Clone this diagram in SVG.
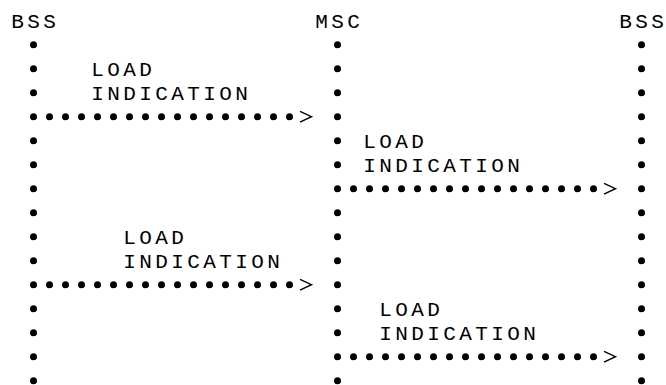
<svg xmlns="http://www.w3.org/2000/svg" width="666" height="385" viewBox="0 0 666 385">
<style>
  text { font-family: "Liberation Mono", "DejaVu Sans Mono", monospace; font-size: 21px; letter-spacing: 3.4px; fill: #000; }
  .life { stroke: #000; stroke-width: 7; stroke-linecap: round; stroke-dasharray: 0 24; fill: none; }
  .msg { stroke: #000; stroke-width: 7; stroke-linecap: round; stroke-dasharray: 0 16; fill: none; marker-end: url(#chev); }
</style>
<defs>
  <marker id="chev" markerUnits="userSpaceOnUse" viewBox="0 0 24 12" markerWidth="24" markerHeight="12" refX="0" refY="6" orient="auto" overflow="visible">
    <path d="M 10.5 0.6 L 22 6 L 10.5 11.4" fill="none" stroke="#000" stroke-width="1.4"/>
  </marker>
</defs>
<rect width="666" height="385" fill="#fff"/>
<g id="bss-left">
  <text x="11.2" y="28.2">BSS</text>
  <line class="life" x1="33.5" y1="44.7" x2="33.5" y2="380.71"/>
</g>
<g id="msc">
  <text x="315.2" y="28.2">MSC</text>
  <line class="life" x1="337.5" y1="44.7" x2="337.5" y2="380.71"/>
</g>
<g id="bss-right">
  <text x="619.2" y="28.2">BSS</text>
  <line class="life" x1="641.5" y1="44.7" x2="641.5" y2="380.71"/>
</g>
<g id="connectors">
  <line class="msg" x1="49.5" y1="116.7" x2="289.51" y2="116.7"/>
  <text x="91.2" y="76.2">LOAD<tspan x="91.2" y="100.2">INDICATION</tspan></text>
  <line class="msg" x1="353.5" y1="188.7" x2="593.51" y2="188.7"/>
  <text x="363.2" y="148.2">LOAD<tspan x="363.2" y="172.2">INDICATION</tspan></text>
  <line class="msg" x1="49.5" y1="284.7" x2="289.51" y2="284.7"/>
  <text x="123.2" y="244.2">LOAD<tspan x="123.2" y="268.2">INDICATION</tspan></text>
  <line class="msg" x1="353.5" y1="356.7" x2="593.51" y2="356.7"/>
  <text x="379.2" y="316.2">LOAD<tspan x="379.2" y="340.2">INDICATION</tspan></text>
</g>
</svg>
